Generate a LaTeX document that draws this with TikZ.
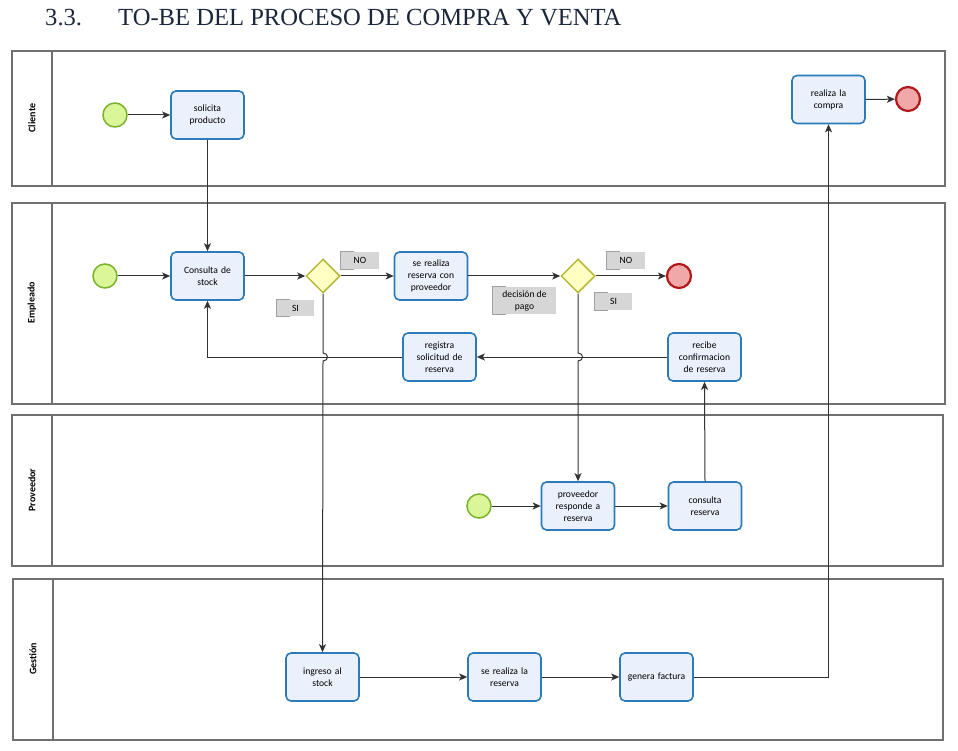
\documentclass[tikz,border=0pt]{standalone}
\usepackage{fontspec}
\setmainfont{Carlito}
\newfontfamily\titlefont{Liberation Serif}
\usetikzlibrary{arrows.meta,shapes.geometric,calc}
\definecolor{taskfill}{RGB}{234,240,252}
\definecolor{taskblue}{RGB}{43,123,185}
\definecolor{startfill}{RGB}{218,246,152}
\definecolor{startgreen}{RGB}{122,178,44}
\definecolor{endfill}{RGB}{240,168,168}
\definecolor{endred}{RGB}{176,24,28}
\definecolor{gwfill}{RGB}{255,255,196}
\definecolor{gwstroke}{RGB}{184,184,58}
\definecolor{annfill}{RGB}{214,214,214}
\definecolor{annedge}{RGB}{160,160,160}
\definecolor{lanegray}{RGB}{112,112,112}
\definecolor{flowgray}{RGB}{50,50,50}
\definecolor{titlecol}{RGB}{28,38,58}
\begin{document}
\begin{tikzpicture}[x=1pt,y=-1pt,
  lane/.style={draw=lanegray,line width=1.3pt},
  lanelabel/.style={rotate=90,font=\bfseries\fontsize{10}{11}\selectfont,inner sep=0},
  task/.style={draw=taskblue,fill=taskfill,line width=1.6pt,rounded corners=5pt,
    minimum width=73pt,minimum height=48pt,align=center,text width=70pt,
    font=\fontsize{9.6}{12}\selectfont,inner sep=1pt},
  startev/.style={circle,draw=startgreen,fill=startfill,line width=1.5pt,minimum size=24pt,inner sep=0},
  endev/.style={circle,draw=endred,fill=endfill,line width=2.2pt,minimum size=24pt,inner sep=0},
  gw/.style={diamond,draw=gwstroke,fill=gwfill,line width=1.5pt,minimum size=34pt,inner sep=0},
  annot/.style={fill=annfill,inner sep=0,align=center,font=\fontsize{9.6}{12}\selectfont},
  annbr/.style={draw=annedge,line width=1pt},
  flow/.style={draw=flowgray,line width=1pt,-{Stealth[length=8pt,width=7pt,inset=2pt]}}
]
\useasboundingbox (0,0) rectangle (958,751);
% title
\node[anchor=base west,inner sep=0,text=titlecol,font=\titlefont\fontsize{24.6}{25}\selectfont] (tnum) at (45,26) {3.3.};
\node[anchor=base west,inner sep=0,text=titlecol,font=\titlefont\fontsize{24.6}{25}\selectfont] (ttxt) at (118,26) {TO-BE DEL PROCESO DE COMPRA Y VENTA};
% lanes
\draw[lane] (12,51) rectangle (945,186); \draw[lane] (52,51) -- (52,186);
\draw[lane] (12,203) rectangle (945,404); \draw[lane] (52,203) -- (52,404);
\draw[lane] (12,415) rectangle (943,566); \draw[lane] (52,415) -- (52,566);
\draw[lane] (13,579) rectangle (943,740); \draw[lane] (53,579) -- (53,740);
\node[lanelabel] (lc) at (32,118) {Cliente};
\node[lanelabel] (le) at (32,303) {Empleado};
\node[lanelabel] (lp) at (32,490) {Proveedor};
\node[lanelabel] (lg) at (33,659) {Gestión};
% Cliente
\node[startev] (s1) at (115,115) {};
\node[task] (solicita) at (207.5,115) {solicita\\producto};
\node[task] (compra) at (828.5,99.5) {realiza la\\compra};
\node[endev] (e1) at (908,99) {};
% Empleado
\node[startev] (s2) at (105,276) {};
\node[task] (consulta) at (207.5,276) {Consulta de\\stock};
\node[gw] (g1) at (323,276) {};
\node[task] (reserva) at (431,276) {se realiza\\reserva con\\proveedor};
\node[gw] (g2) at (578,276) {};
\node[endev] (e2) at (679,276) {};
\node[task] (registra) at (439.5,357) {registra\\solicitud de\\reserva};
\node[task] (recibe) at (704.5,357) {recibe\\confirmacion\\de reserva};
% annotations
\node[annot,minimum width=38pt,minimum height=17pt] (no1) at (360,260.5) {NO};
\node[annot,minimum width=37pt,minimum height=16pt] (si1) at (295.5,308) {SI};
\node[annot,minimum width=63pt,minimum height=27pt] (dec) at (524.5,300.5) {decisión de\\pago};
\node[annot,minimum width=38pt,minimum height=17pt] (no2) at (626,260.5) {NO};
\node[annot,minimum width=37pt,minimum height=17pt] (si2) at (613.5,301.5) {SI};
\foreach \a in {no1,si1,dec,no2,si2}{
  \draw[annbr] ($(\a.north west)+(13,0)$) -| (\a.south west) -- ++(13,0);
}
% Proveedor
\node[startev] (s3) at (479,506) {};
\node[task] (responde) at (578,506) {proveedor\\responde a\\reserva};
\node[task] (consres) at (705,506) {consulta\\reserva};
% Gestion
\node[task] (ingreso) at (322.5,677) {ingreso al\\stock};
\node[task] (larres) at (504.5,677) {se realiza la\\reserva};
\node[task] (factura) at (656.5,677) {genera factura};
% hop points
\coordinate (h1) at (g1.south |- registra.west);
\coordinate (h2) at (g2.south |- registra.east);
% flows
\draw[flow] (s1) -- (solicita);
\draw[flow] (solicita.south) -- (consulta.north);
\draw[flow] (s2) -- (consulta);
\draw[flow] (consulta.east) -- (g1.west);
\draw[flow] (g1.east) -- (reserva.west);
\draw[flow] (g1.south) -- ($(h1)+(0,-4)$) .. controls ($(h1)+(6,-4)$) and ($(h1)+(6,4)$) .. ($(h1)+(0,4)$) -- (ingreso.north);
\draw[flow] (reserva.east) -- (g2.west);
\draw[flow] (g2.east) -- (e2);
\draw[flow] (g2.south) -- ($(h2)+(0,-4)$) .. controls ($(h2)+(6,-4)$) and ($(h2)+(6,4)$) .. ($(h2)+(0,4)$) -- (responde.north);
\draw[flow] (s3) -- (responde);
\draw[flow] (responde.east) -- (consres.west);
\draw[flow] (consres.north) -- (recibe.south);
\draw[flow] (recibe.west) -- (registra.east);
\draw[flow] (registra.west) -| (consulta.south);
\draw[flow] (ingreso.east) -- (larres.west);
\draw[flow] (larres.east) -- (factura.west);
\draw[flow] (factura.east) -| (compra.south);
\draw[flow] (compra.east) -- (e1);
\end{tikzpicture}
\end{document}
